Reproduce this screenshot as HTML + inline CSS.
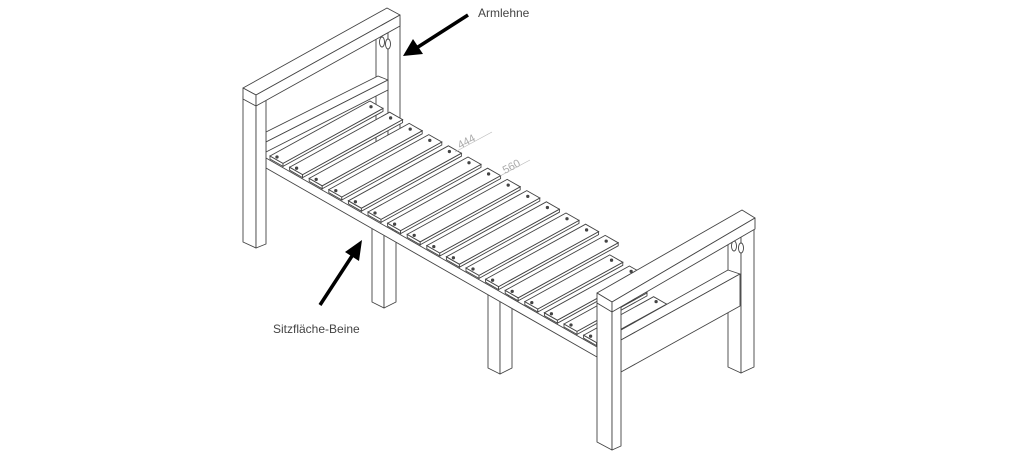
<!DOCTYPE html>
<html><head><meta charset="utf-8"><style>
html,body{margin:0;padding:0;background:#fff;width:1024px;height:456px;overflow:hidden}
svg{display:block}
text{font-family:"Liberation Sans",sans-serif}
</style></head><body>
<svg id="s" width="1024" height="456" viewBox="0 0 1024 456" xmlns="http://www.w3.org/2000/svg">
<g id="g" fill="#fff" stroke="#444" stroke-width="0.9" stroke-linejoin="round">
<!-- left back post -->
<polygon points="376,20 388,24 388,150 376,146"/>
<polygon points="388,24 400,18 400,145 388,150"/>
<!-- left back rail -->
<polygon points="266,132 378,76 388,80 266,142"/>
<polygon points="266,142 388,80 388,90 266,152"/>
<!-- middle hidden legs -->
<polygon points="372,228 384,234 384,308 372,302"/>
<polygon points="384,234 396,228 396,302 384,308"/>
<polygon points="488,294 500,300 500,374 488,368"/>
<polygon points="500,300 512,294 512,368 500,374"/>
<!-- seat frame front -->
<polygon points="266,158 597,347 597,357 266,168"/>
</g>
<g id="slats" fill="#fff" stroke="#444" stroke-width="0.9"></g>
<g fill="#fff" stroke="#444" stroke-width="0.9" stroke-linejoin="round">
<!-- left front post -->
<polygon points="243,96 256,102 256,248 243,242"/>
<polygon points="256,102 266,98 266,244 256,248"/>
<!-- left top bar -->
<polygon points="243,88 387,8 400,15 256,95"/>
<polygon points="243,88 256,95 256,106 243,99"/>
<polygon points="256,95 400,15 400,26 256,106"/>
<ellipse cx="382" cy="42" rx="2.5" ry="5"/><ellipse cx="388" cy="44" rx="2.5" ry="5"/>
<!-- right back post -->
<polygon points="728,224 741,230 741,373 728,367"/>
<polygon points="741,230 754,224 754,367 741,373"/>
<ellipse cx="734" cy="246" rx="2.5" ry="5"/><ellipse cx="741" cy="248" rx="2.5" ry="5"/>
<!-- right rails -->
<polygon points="621,330 728,270 740,274 621,340"/>
<polygon points="621,340 740,274 740,306 621,372"/>
<!-- right front post -->
<polygon points="597,303 612,311 612,450 597,442"/>
<polygon points="612,311 621,306 621,446 612,450"/>
<!-- right top bar -->
<polygon points="597,293 742,210 755,218 612,302"/>
<polygon points="597,293 612,302 612,312 597,303"/>
<polygon points="612,302 755,218 755,229 612,312"/>
</g>
<!-- dimensions -->
<g fill="#aaa" stroke="none" font-size="11">
<text transform="translate(460,149) rotate(-28)">444</text>
<text transform="translate(505,174) rotate(-28)">560</text>
</g>
<line x1="455" y1="152" x2="492" y2="132" stroke="#bbb" stroke-width="0.7"/>
<line x1="500" y1="176" x2="530" y2="160" stroke="#bbb" stroke-width="0.7"/>
<!-- arrows -->
<line x1="468" y1="15" x2="418" y2="47" stroke="#000" stroke-width="3.5"/>
<polygon points="403,56 413,39 423,54" fill="#000"/>
<line x1="320" y1="305" x2="352" y2="256" stroke="#000" stroke-width="3.5"/>
<polygon points="362,240 345,252 359,261" fill="#000"/>
<text x="478" y="17" font-size="12" fill="#444">Armlehne</text>
<text x="273" y="333" font-size="12" fill="#444">Sitzfläche-Beine</text>
</svg>
<script>
var g=document.getElementById('slats'),ns='http://www.w3.org/2000/svg';
function poly(p){var e=document.createElementNS(ns,'polygon');e.setAttribute('points',p.map(function(q){return q[0].toFixed(1)+','+q[1].toFixed(1)}).join(' '));g.appendChild(e);}
function dot(x,y){var e=document.createElementNS(ns,'circle');e.setAttribute('cx',x);e.setAttribute('cy',y);e.setAttribute('r',1.2);e.setAttribute('fill','#444');g.appendChild(e);}
var n=17,sx=270,sy=156,dx=19.6,dy=11.2,vx=100,vy=-55;
for(var i=n-1;i>=0;i--){
 var x=sx+i*dx,y=sy+i*dy,w=13,wy=7.4;
 var L=1; if(x>560)L=0.7; else if(x>520)L=0.85;
 var a=[x,y],b=[x+w,y+wy],c=[x+w+vx*L,y+wy+vy*L],d=[x+vx*L,y+vy*L];
 poly([a,b,[b[0],b[1]+3],[a[0],a[1]+3]]);
 poly([b,c,[c[0],c[1]+3],[b[0],b[1]+3]]);
 poly([a,b,c,d]);
 dot(x+7,y+1);
 dot(x+vx*L*0.95+6,y+vy*L*0.95+3);
}
</script>
</body></html>
